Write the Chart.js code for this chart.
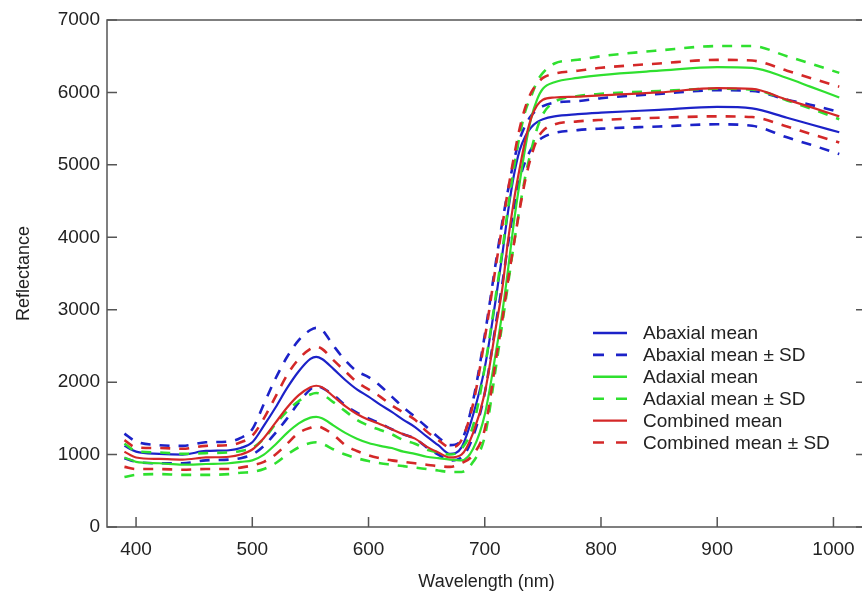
<!DOCTYPE html>
<html>
<head>
<meta charset="utf-8">
<script src="https://cdn.jsdelivr.net/npm/chart.js@4/dist/chart.umd.min.js"></script>
<style>
  html, body { margin: 0; padding: 0; background: #fff; overflow: hidden; }
  #wrap { width: 862px; height: 597px; overflow: hidden; }
</style>
</head>
<body>
<div id="wrap"><canvas id="myChart" width="870" height="597"></canvas></div>
<script>
const wavelengths = [390, 400, 420, 440, 460, 480, 490, 500, 510, 520, 530, 540, 550, 555, 560, 570, 580, 590,
  600, 610, 620, 630, 640, 650, 660, 670, 680, 690, 700, 710, 715, 720, 725, 730, 735, 740, 745, 750,
  760, 780, 800, 850, 900, 930, 960, 980, 1005];

const abaxialMean = [1120, 1040, 1010, 1000, 1050, 1060, 1090, 1170, 1400, 1650, 1920, 2150, 2320, 2350, 2320, 2180, 2030, 1900,
  1800, 1690, 1590, 1480, 1380, 1250, 1130, 1010, 1100, 1550, 2200, 3200, 3750, 4350, 4850, 5200, 5400, 5520, 5590, 5630,
  5670, 5700, 5720, 5760, 5800, 5780, 5650, 5560, 5450];
const abaxialUpper = [1290, 1180, 1130, 1120, 1170, 1180, 1230, 1350, 1700, 2050, 2350, 2580, 2720, 2750, 2720, 2500, 2300, 2150,
  2070, 1950, 1800, 1650, 1520, 1380, 1240, 1130, 1200, 1750, 2650, 3700, 4200, 4650, 5050, 5350, 5550, 5680, 5760, 5810,
  5860, 5880, 5920, 5980, 6030, 6020, 5900, 5830, 5730];
const abaxialLower = [950, 900, 880, 880, 920, 930, 950, 1000, 1120, 1300, 1500, 1720, 1900, 1950, 1920, 1820, 1680, 1580,
  1500, 1430, 1350, 1280, 1220, 1100, 1000, 920, 960, 1250, 1850, 2850, 3350, 3900, 4400, 4800, 5050, 5220, 5320, 5380,
  5440, 5480, 5500, 5530, 5560, 5540, 5380, 5280, 5150];

const adaxialMean = [960, 900, 880, 860, 870, 880, 900, 920, 1000, 1140, 1300, 1430, 1510, 1520, 1500, 1400, 1300, 1220,
  1160, 1120, 1090, 1040, 1010, 970, 950, 930, 920, 1080, 1550, 2450, 2950, 3550, 4200, 4750, 5250, 5650, 5900, 6050,
  6140, 6200, 6240, 6300, 6350, 6340, 6200, 6080, 5930];
const adaxialUpper = [1150, 1050, 1030, 1010, 1020, 1030, 1050, 1090, 1220, 1420, 1600, 1740, 1830, 1850, 1830, 1720, 1600, 1480,
  1400, 1340, 1280, 1200, 1150, 1070, 1030, 1000, 1080, 1400, 2200, 3250, 3800, 4400, 4950, 5400, 5750, 5950, 6150, 6270,
  6400, 6450, 6500, 6580, 6640, 6640, 6500, 6400, 6270];
const adaxialLower = [690, 720, 730, 720, 720, 730, 750, 760, 800, 880, 1000, 1100, 1160, 1170, 1150, 1070, 1000, 950,
  910, 880, 860, 840, 820, 800, 780, 760, 760, 900, 1250, 2250, 2800, 3350, 3900, 4400, 4850, 5200, 5500, 5700,
  5870, 5950, 5980, 6020, 6050, 6040, 5890, 5780, 5630];

const combinedMean = [1040, 960, 940, 930, 960, 970, 1000, 1070, 1230, 1440, 1650, 1820, 1930, 1950, 1930, 1800, 1670, 1560,
  1480, 1420, 1350, 1280, 1220, 1110, 1030, 960, 1000, 1300, 1850, 2800, 3280, 3950, 4500, 4950, 5350, 5650, 5820, 5900,
  5930, 5940, 5960, 6000, 6060, 6050, 5900, 5800, 5670];
const combinedUpper = [1200, 1100, 1090, 1080, 1120, 1130, 1170, 1260, 1500, 1800, 2100, 2320, 2460, 2490, 2460, 2300, 2150, 2000,
  1900, 1800, 1680, 1580, 1480, 1320, 1200, 1100, 1200, 1700, 2600, 3650, 4150, 4650, 5100, 5500, 5800, 6000, 6120, 6200,
  6260, 6300, 6340, 6400, 6450, 6440, 6300, 6200, 6080];
const combinedLower = [830, 800, 800, 790, 800, 800, 820, 850, 900, 1000, 1150, 1300, 1370, 1390, 1370, 1270, 1130, 1050,
  990, 950, 920, 900, 880, 860, 840, 830, 880, 1000, 1350, 2350, 2850, 3400, 3900, 4380, 4800, 5120, 5350, 5470,
  5560, 5600, 5620, 5650, 5670, 5660, 5530, 5430, 5310];

const xTicks = [400, 500, 600, 700, 800, 900, 1000];
const yTicks = [0, 1000, 2000, 3000, 4000, 5000, 6000, 7000];

const legendLabels = ["Abaxial mean", "Abaxial mean \u00b1 SD", "Adaxial mean", "Adaxial mean \u00b1 SD", "Combined mean", "Combined mean \u00b1 SD"];

const BLUE = "#1c22c8";
const GREEN = "#2fe02f";
const RED = "#d42828";
const FONT = "'Liberation Sans', Arial, Helvetica, sans-serif";
const DASH = [10, 9];

function pts(values) {
  return wavelengths.map((w, i) => ({ x: w, y: values[i] }));
}

function line(values, color, dashed) {
  return {
    data: pts(values),
    borderColor: color,
    borderWidth: dashed ? 2.6 : 2.2,
    borderDash: dashed ? DASH : [],
    pointRadius: 0,
    fill: false,
    cubicInterpolationMode: "monotone"
  };
}

// first dataset is drawn on top
const datasets = [
  line(combinedMean, RED, false),
  line(combinedUpper, RED, true),
  line(combinedLower, RED, true),
  line(adaxialMean, GREEN, false),
  line(adaxialUpper, GREEN, true),
  line(adaxialLower, GREEN, true),
  line(abaxialMean, BLUE, false),
  line(abaxialUpper, BLUE, true),
  line(abaxialLower, BLUE, true)
];

const legendItems = [
  { color: BLUE, dashed: false },
  { color: BLUE, dashed: true },
  { color: GREEN, dashed: false },
  { color: GREEN, dashed: true },
  { color: RED, dashed: false },
  { color: RED, dashed: true }
];

const framePlugin = {
  id: "frame",
  afterDraw(chart) {
    const { ctx, chartArea: a, scales } = chart;
    ctx.save();
    ctx.strokeStyle = "#555";
    ctx.lineWidth = 1.5;
    ctx.beginPath();
    ctx.rect(a.left, a.top, a.right - a.left, a.bottom - a.top);
    ctx.stroke();
    // inward ticks
    ctx.beginPath();
    scales.x.ticks.forEach((t, i) => {
      const px = scales.x.getPixelForTick(i);
      ctx.moveTo(px, a.bottom);
      ctx.lineTo(px, a.bottom - 10);
    });
    scales.y.ticks.forEach((t, i) => {
      const py = scales.y.getPixelForTick(i);
      ctx.moveTo(a.left, py);
      ctx.lineTo(a.left + 10, py);
      ctx.moveTo(a.right, py);
      ctx.lineTo(a.right - 10, py);
    });
    ctx.stroke();

    // legend
    const x0 = 593, x1 = 627, tx = 643, y0 = 333, step = 21.9;
    ctx.font = "19px " + FONT;
    ctx.textBaseline = "middle";
    ctx.fillStyle = "#222";
    legendItems.forEach((it, i) => {
      const y = y0 + i * step;
      ctx.beginPath();
      ctx.strokeStyle = it.color;
      ctx.lineWidth = it.dashed ? 2.6 : 2.4;
      ctx.setLineDash(it.dashed ? [11, 12] : []);
      ctx.moveTo(x0, y);
      ctx.lineTo(x1, y);
      ctx.stroke();
      ctx.setLineDash([]);
      ctx.fillText(legendLabels[i], tx, y + 1);
    });
    ctx.restore();
  }
};

new Chart(document.getElementById("myChart"), {
  type: "line",
  data: { datasets },
  plugins: [framePlugin],
  options: {
    responsive: false,
    animation: false,
    layout: { padding: { top: 20, right: 4, left: 0, bottom: 0 } },
    plugins: { legend: { display: false }, tooltip: { enabled: false } },
    scales: {
      x: {
        type: "linear",
        min: 375,
        max: 1028,
        afterBuildTicks: (s) => { s.ticks = xTicks.map(v => ({ value: v })); },
        afterFit: (s) => { s.height = 70; },
        grid: { display: false, drawTicks: false },
        border: { display: false },
        ticks: { padding: 11, color: "#222", font: { family: FONT, size: 19 }, callback: (v) => String(v) },
        title: { display: true, text: "Wavelength (nm)", color: "#222", font: { family: FONT, size: 18 }, padding: { top: 0, bottom: 4 } }
      },
      y: {
        min: 0,
        max: 7000,
        afterBuildTicks: (s) => { s.ticks = yTicks.map(v => ({ value: v })); },
        afterFit: (s) => { s.width = 107; },
        grid: { display: false, drawTicks: false },
        border: { display: false },
        ticks: { padding: 7, color: "#222", font: { family: FONT, size: 19 }, callback: (v) => String(v) },
        title: { display: true, text: "Reflectance", color: "#222", font: { family: FONT, size: 18 }, padding: { top: 13, bottom: 0 } }
      }
    }
  }
});
</script>
</body>
</html>
